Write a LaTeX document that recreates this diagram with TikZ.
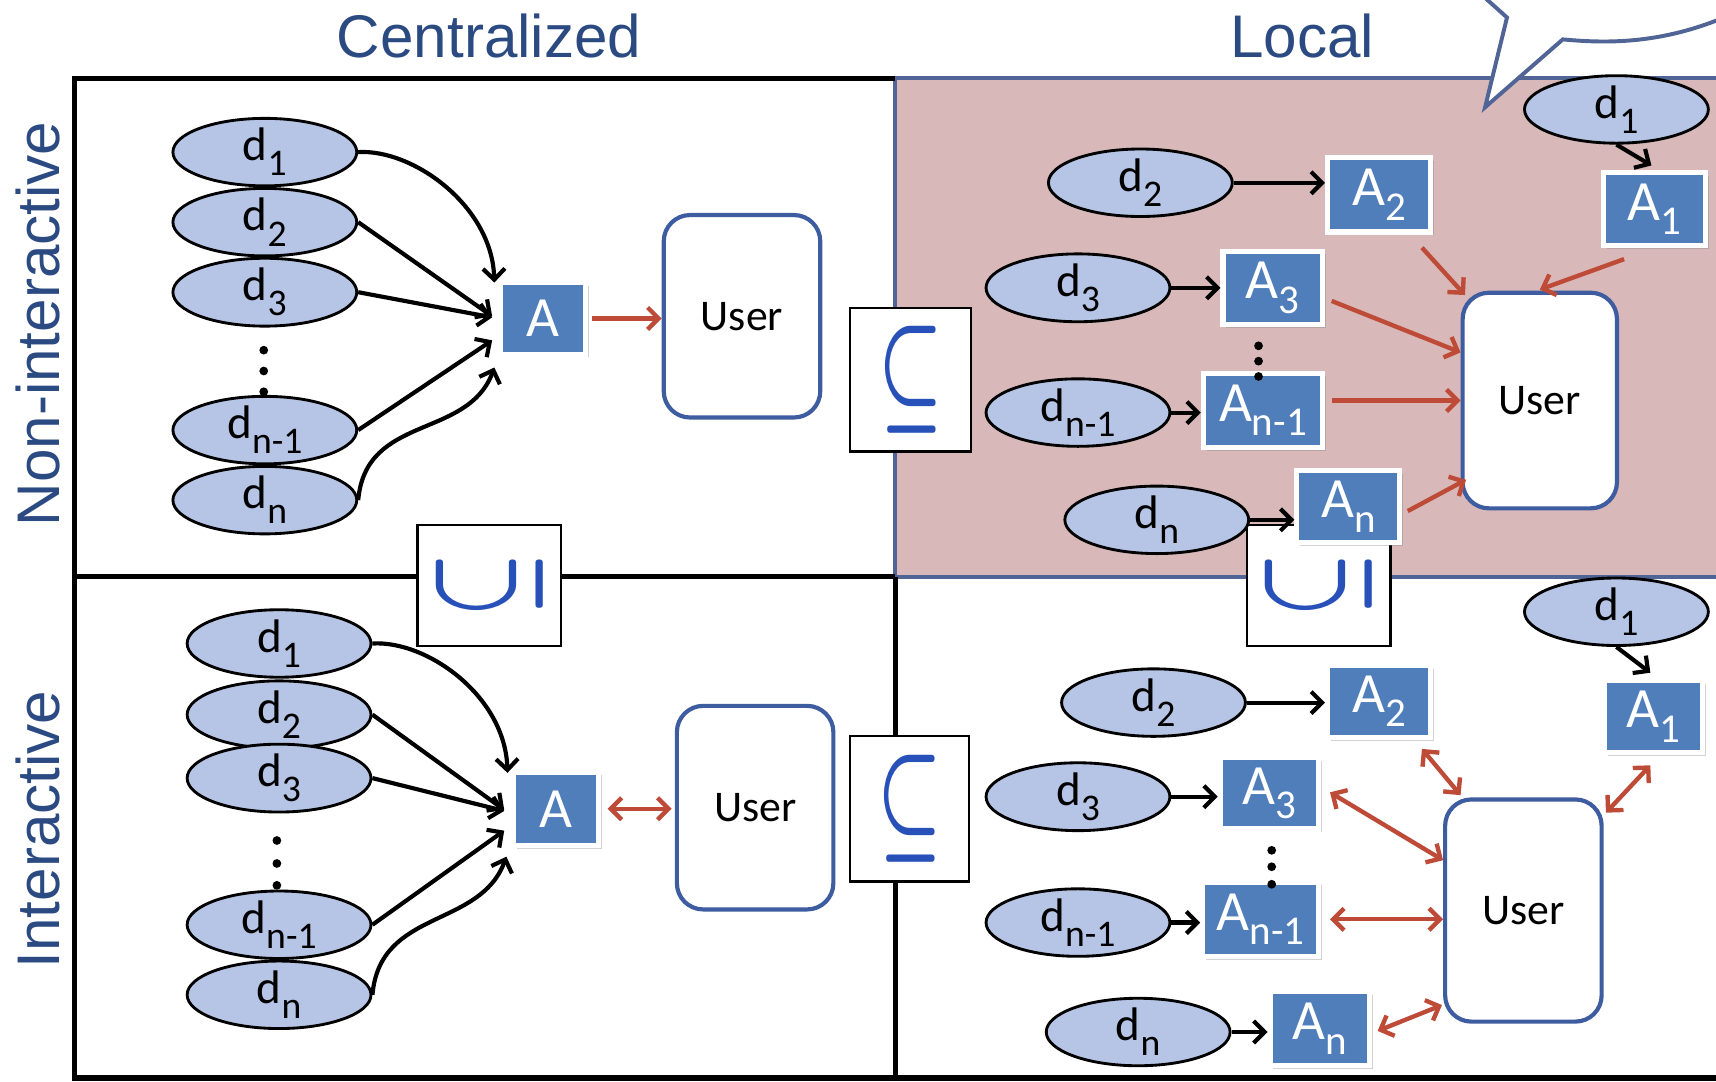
\documentclass[tikz,border=0pt]{standalone}
\usepackage{bm}
\usepackage{fontspec}
\setmainfont{Carlito}
\newfontfamily\titlefont{Liberation Sans}
\usetikzlibrary{shapes.geometric,arrows.meta,shadows,calc}
\definecolor{titleblue}{RGB}{44,74,130}
\definecolor{ellfill}{RGB}{182,197,229}
\definecolor{boxblue}{RGB}{79,126,186}
\definecolor{userblue}{RGB}{62,92,160}
\definecolor{arrred}{RGB}{190,75,55}
\definecolor{pinkfill}{RGB}{216,184,185}
\definecolor{pinkline}{RGB}{80,100,150}
\definecolor{subblue}{RGB}{40,80,185}
\newcommand\sbs[1]{\raisebox{-0.32em}{\scalebox{0.8}{#1}}}
\newcommand\sbsA[1]{\raisebox{-0.25em}{\scalebox{0.72}{#1}}}
\newcommand\subsym{\textcolor{subblue}{\resizebox{29.5pt}{38pt}{$\bm{\subseteq}$}}}
\tikzset{
  dnode/.style={ellipse, draw=black, line width=1.3pt, fill=ellfill, minimum width=84pt, minimum height=24pt, inner sep=0pt, font=\fontsize{21.5}{21.5}\selectfont},
  abox/.style={rectangle, fill=boxblue, draw=white, line width=2.3pt, text=white, inner sep=0pt, font=\fontsize{26}{26}\selectfont, drop shadow={opacity=0.35, shadow xshift=1.5pt, shadow yshift=-1.5pt}},
  userbox/.style={rectangle, rounded corners=12pt, draw=userblue, line width=1.9pt, fill=white, inner sep=0pt, minimum width=71.5pt, font=\fontsize{20}{20}\selectfont},
  subbox/.style={rectangle, draw=black, line width=1pt, fill=white, inner sep=0pt},
  blk/.style={line width=1.9pt, draw=black, -{Straight Barb[length=5pt,width=10pt]}},
  red1/.style={line width=2pt, draw=arrred, -{Straight Barb[length=5pt,width=10pt]}},
  red2/.style={line width=2pt, draw=arrred, {Straight Barb[length=5pt,width=10pt]}-{Straight Barb[length=5pt,width=10pt]}},
  dotc/.style={circle, fill=black, inner sep=0pt, minimum size=4pt},
  title/.style={font=\titlefont\fontsize{27.5}{27.5}\selectfont, text=titleblue, inner sep=0pt},
}
\begin{document}
\begin{tikzpicture}[x=0.5pt,y=-0.5pt]
\useasboundingbox (0,0) rectangle (1568,988);
% quadrants
\fill[pinkfill] (818,71.5) rectangle (1580,527);
\draw[pinkline, line width=1.8pt] (1580,71.5) -- (818,71.5) -- (818,527) -- (1580,527);
\draw[black, line width=2.4pt] (818,71.5) -- (68,71.5) -- (68,985) -- (1580,985);
\draw[black, line width=2.4pt] (68,527) -- (818,527);
\draw[black, line width=2.4pt] (818,527) -- (818,985);
% speech bubble
\fill[white] (1348,-10) -- (1377,16) -- (1357,98) -- (1428,36) .. controls (1470,40) and (1520,40) .. (1580,14) -- (1580,-10) -- cycle;
\draw[pinkline, line width=1.8pt, line join=miter] (1348,-10) -- (1377,16) -- (1357,98) -- (1428,36) .. controls (1470,40) and (1520,40) .. (1580,14);
% titles
\node[title] (tcen) at (447,33) {Centralized};
\node[title] (tloc) at (1190,33) {Local};
\node[title, rotate=90] (tnon) at (35,296) {Non-interactive};
\node[title, rotate=90] (tint) at (35,758) {Interactive};
% subset boxes
\node[subbox, minimum width=55pt, minimum height=65.5pt] (s1) at (832,347) {\subsym};
\node[subbox, minimum width=54.5pt, minimum height=66.5pt] (s2) at (831,739) {\subsym};
\node[subbox, minimum width=65.5pt, minimum height=55.5pt] (s3) at (447,535) {\rotatebox{90}{\subsym}};
\node[subbox, minimum width=65.5pt, minimum height=55.5pt] (s4) at (1205,535) {\rotatebox{90}{\subsym}};

% ===== top-left =====
\node[dnode] (a1) at (242,139) {d\sbs{1}};
\node[dnode] (a2) at (242,203) {d\sbs{2}};
\node[dnode] (a3) at (242,267) {d\sbs{3}};
\node[dnode] (an1) at (242,393) {d\sbs{n-1}};
\node[dnode] (an) at (242,457) {d\sbs{n}};
\node[dotc] (adot1) at (241,320) {};
\node[dotc] (adot2) at (241,339) {};
\node[dotc] (adot3) at (241,358) {};
\node[abox, minimum width=39pt, minimum height=32.5pt] (aA) at (496,291) {A};
\node[userbox, minimum height=92.5pt] (aU) at (678,289) {User};
\draw[blk] (a1.east) .. controls +(50,-3) and +(-2,-70) .. ($(aA.north west)+(-3,2)$);
\draw[blk] (a2.east) -- ($(aA.west)+(-5,-2)$);
\draw[blk] (a3.east) -- ($(aA.west)+(-5,-1)$);
\draw[blk] (an1.east) -- ($(aA.west)+(-5,20)$);
\draw[blk] (an.east) .. controls +(7,-79) and +(-24,66) .. ($(aA.south west)+(-3,10)$);
\draw[red1] ($(aA.east)+(4,0)$) -- (aU.west |- aA.east);

% ===== bottom-left =====
\node[dnode] (b1) at (255,588) {d\sbs{1}};
\node[dnode] (b2) at (255,653) {d\sbs{2}};
\node[dnode] (b3) at (255,711) {d\sbs{3}};
\node[dnode] (bn1) at (255,845) {d\sbs{n-1}};
\node[dnode] (bn) at (255,909) {d\sbs{n}};
\node[dotc] (bdot1) at (253,768) {};
\node[dotc] (bdot2) at (253,789) {};
\node[dotc] (bdot3) at (253,809) {};
\node[abox, minimum width=39pt, minimum height=33.5pt] (bA) at (508,739) {A};
\node[userbox, minimum height=93pt] (bU) at (690,738) {User};
\draw[blk] (b1.east) .. controls +(50,-3) and +(-2,-70) .. ($(bA.north west)+(-3,3)$);
\draw[blk] (b2.east) -- ($(bA.west)+(-6,1)$);
\draw[blk] (b3.east) -- ($(bA.west)+(-6,2)$);
\draw[blk] (bn1.east) -- ($(bA.west)+(-6,20)$);
\draw[blk] (bn.east) .. controls +(7,-79) and +(-24,66) .. ($(bA.south west)+(-4,8)$);
\draw[red2] ($(bA.east)+(6,0)$) -- ($(bU.west |- bA.east)+(-3,0)$);

% ===== top-right =====
\node[dnode] (c1) at (1477,100) {d\sbs{1}};
\node[dnode] (c2) at (1042,167) {d\sbs{2}};
\node[dnode] (c3) at (985,263) {d\sbs{3}};
\node[dnode] (cn1) at (985,377) {d\sbs{n-1}};
\node[dnode] (cn) at (1057,475) {d\sbs{n}};
\node[abox, minimum width=46.5pt, minimum height=33.5pt] (cA1) at (1512,191) {A\sbsA{1}};
\node[abox, minimum width=47pt, minimum height=34pt] (cA2) at (1260,178) {A\sbsA{2}};
\node[abox, minimum width=45.5pt, minimum height=33.5pt] (cA3) at (1163,263) {A\sbsA{3}};
\node[abox, minimum width=54.5pt, minimum height=34pt] (cAn1) at (1154,375) {A\sbsA{n-1}};
\node[abox, minimum width=47pt, minimum height=33pt] (cAn) at (1232,463) {A\sbsA{n}};
\node[userbox, minimum width=70.5pt, minimum height=98.5pt] (cU) at (1407,366) {User};
\node[dotc] (cdot1) at (1150,316) {};
\node[dotc] (cdot2) at (1150,330) {};
\node[dotc] (cdot3) at (1150,344) {};
\draw[blk] (c1.south) -- ($(cA1.north)+(-3,-4)$);
\draw[blk] (c2.east) -- (c2.east -| cA2.west);
\draw[blk] (c3.east) -- (c3.east -| cA3.west);
\draw[blk] (cn1.east) -- (cn1.east -| cAn1.west);
\draw[blk] (cn.east) -- (cn.east -| cAn.west);
\draw[red1] ($(cA2.south east)+(-10,12)$) -- ($(cU.north west)+(4,4)$);
\draw[red1] ($(cA1.south)+(-28,10)$) -- ($(cU.north)+(0,-1)$);
\draw[red1] ($(cA3.east)+(6,12)$) -- ($(cU.west)+(0,-44)$);
\draw[red1] ($(cAn1.east |- cU.west)+(6,0)$) -- (cU.west);
\draw[red1] ($(cAn.east)+(5,4)$) -- ($(cU.south west)+(5,-28)$);

% ===== bottom-right =====
\node[dnode] (e1) at (1477,559) {d\sbs{1}};
\node[dnode] (e2) at (1054,642) {d\sbs{2}};
\node[dnode] (e3) at (985,728) {d\sbs{3}};
\node[dnode] (en1) at (985,843) {d\sbs{n-1}};
\node[dnode] (en) at (1040,943) {d\sbs{n}};
\node[abox, minimum width=45pt, minimum height=33pt] (eA1) at (1511,655) {A\sbsA{1}};
\node[abox, minimum width=47pt, minimum height=33pt] (eA2) at (1260,641) {A\sbsA{2}};
\node[abox, minimum width=45pt, minimum height=32.5pt] (eA3) at (1160,725) {A\sbsA{3}};
\node[abox, minimum width=53pt, minimum height=34pt] (eAn1) at (1152,840) {A\sbsA{n-1}};
\node[abox, minimum width=45.5pt, minimum height=34pt] (eAn) at (1206,940) {A\sbsA{n}};
\node[userbox, minimum width=71.5pt, minimum height=101.5pt] (eU) at (1392,832) {User};
\node[dotc] (edot1) at (1162,777) {};
\node[dotc] (edot2) at (1162,792) {};
\node[dotc] (edot3) at (1162,808) {};
\draw[blk] (e1.south) -- ($(eA1.north)+(-3,-5)$);
\draw[blk] (e2.east) -- (e2.east -| eA2.west);
\draw[blk] (e3.east) -- (e3.east -| eA3.west);
\draw[blk] (en1.east) -- (en1.east -| eAn1.west);
\draw[blk] (en.east) -- (en.east -| eAn.west);
\draw[red2] ($(eA2.south east)+(-10,8)$) -- ($(eU.north west)+(16,-2)$);
\draw[red2] ($(eA1.south)+(-3,9)$) -- ($(eU.north east)+(2,14)$);
\draw[red2] ($(eA3.east)+(8,-1)$) -- ($(eU.west)+(0,-46)$);
\draw[red2] ($(eAn1.east)+(8,0)$) -- (eU.west |- eAn1.east);
\draw[red2] ($(eAn.east)+(5,2)$) -- ($(eU.south west)+(-1,-17)$);
\end{tikzpicture}
\end{document}
